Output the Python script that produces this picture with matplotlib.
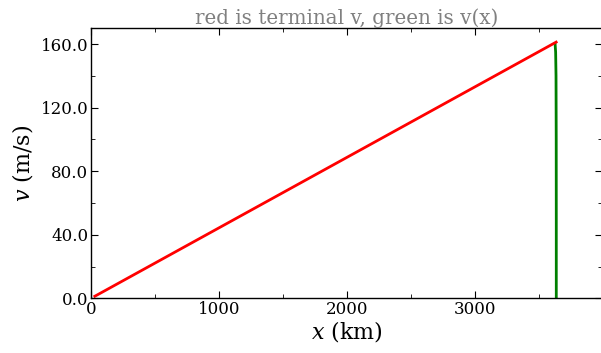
import matplotlib
matplotlib.use("Agg")
import matplotlib.pyplot as plt
from matplotlib.ticker import MultipleLocator, FormatStrFormatter

# terminal velocity (red) vs distance
x_term = [30, 3632]
v_term = [1.3, 161.3]

# v(x) (green), nearly vertical near the end
x_vx = [3633, 3633, 3632.5, 3631, 3628, 3624]
v_vx = [0, 50, 100, 140, 155, 160]

plt.rcParams['font.family'] = ['DejaVu Serif']
plt.rcParams['mathtext.fontset'] = 'dejavuserif'

fig = plt.figure(figsize=(6.01, 3.53), dpi=100)
# axes runs past the right edge of the picture, as in the reference
ax = fig.add_axes([91 / 601, (353 - 298.3) / 353, 511 / 601, 270 / 353])

ax.plot(x_vx, v_vx, color='#008000', lw=2)
ax.plot(x_term, v_term, color='#ff0000', lw=2)

ax.set_xlim(0, 3990)
ax.set_ylim(0, 170)
ax.xaxis.set_major_locator(MultipleLocator(1000))
ax.xaxis.set_minor_locator(MultipleLocator(500))
ax.yaxis.set_major_locator(MultipleLocator(40))
ax.yaxis.set_minor_locator(MultipleLocator(20))
ax.yaxis.set_major_formatter(FormatStrFormatter('%.1f'))

ax.tick_params(which='both', direction='in', top=True, right=True, labelsize=12)
ax.tick_params(which='major', length=5, width=0.8, pad=2)
ax.tick_params(which='minor', length=3, width=0.6)
for s in ax.spines.values():
    s.set_linewidth(1.0)

ax.set_xlabel('$x$ (km)', fontsize=16, labelpad=1)
ax.set_ylabel('$v$ (m/s)', fontsize=16, labelpad=4)
ax.set_title('red is terminal v, green is v(x)', color='gray', fontsize=14.3, pad=3)

fig.savefig('out.png', dpi=100)
